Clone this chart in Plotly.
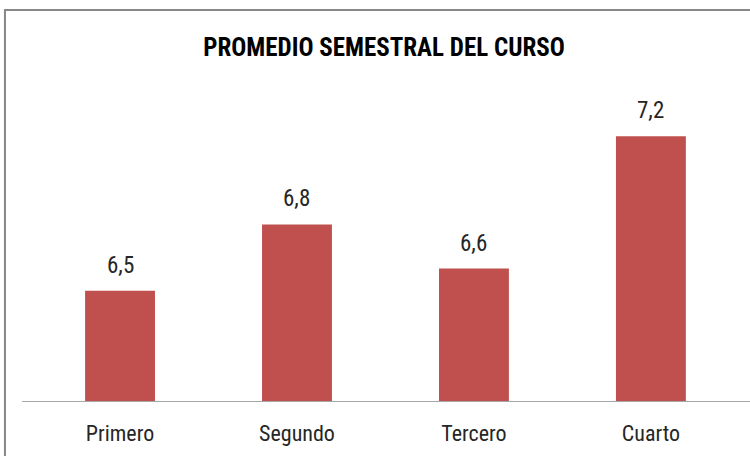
import plotly.graph_objects as go

cursos = ["Primero", "Segundo", "Tercero", "Cuarto"]
promedios = [6.5, 6.8, 6.6, 7.2]

FONT = "Liberation Sans Narrow, Roboto Condensed, Arial Narrow, sans-serif"

fig = go.Figure(go.Bar(
    x=cursos, y=promedios,
    marker=dict(color="#C0504D", line=dict(width=0)),
    width=0.395,
    hoverinfo="skip",
))

for c, v in zip(cursos, promedios):
    fig.add_annotation(x=c, y=v, text=f"{v:.1f}".replace(".", ","),
                       showarrow=False, yanchor="bottom", yshift=10,
                       font=dict(family=FONT, size=23, color="#262626"))

# marco del grafico
fig.add_shape(type="rect", xref="paper", yref="paper",
              x0=-0.0234, x1=1.02, y0=-0.3, y1=1.265,
              line=dict(color="#878787", width=2))

fig.update_layout(
    width=750, height=456,
    margin=dict(l=22, r=0, t=92, b=55),
    paper_bgcolor="white", plot_bgcolor="white",
    title=dict(text="<b>PROMEDIO SEMESTRAL DEL CURSO</b>", x=0.512, xanchor="center",
               y=0.897, yanchor="middle",
               font=dict(family=FONT, size=25, color="#000000")),
    showlegend=False,
    font=dict(family=FONT),
)
fig.update_xaxes(range=[-0.554, 3.56], showline=True, linecolor="#A6A6A6", linewidth=1,
                 ticks="", tickfont=dict(family=FONT, size=22, color="#262626"),
                 ticklabelstandoff=13, showgrid=False)
fig.update_yaxes(range=[6.0, 7.4], visible=False, showgrid=False)

fig.write_html("out.html", config={"displayModeBar": False},
               post_script="document.body.style.margin='0';")
